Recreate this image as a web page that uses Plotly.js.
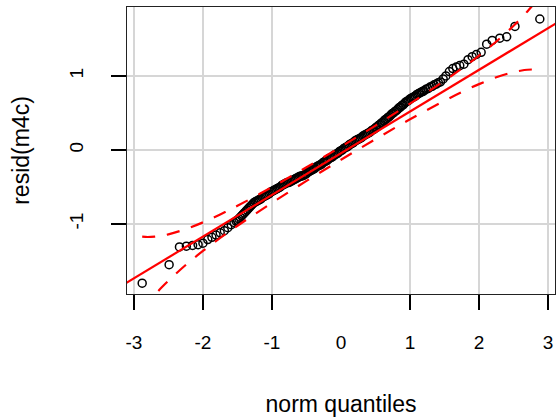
<!DOCTYPE html>
<html>
<head>
<meta charset="utf-8">
<script src="https://cdn.plot.ly/plotly-3.0.1.min.js"></script>
<style>html,body{margin:0;padding:0;background:#fff;}#chart{width:557px;height:419px;}</style>
</head>
<body>
<div id="chart"></div>
<script>
// sorted residuals vs normal quantiles
var qqX = [-2.88,-2.49,-2.34,-2.24,-2.15,-2.07,-2.00,-1.93,-1.87,-1.81,-1.75,-1.69,-1.64,-1.59,-1.55,-1.52,
  -1.50,-1.48,-1.46,-1.44,-1.42,-1.40,-1.38,-1.36,-1.34,-1.32,-1.30,-1.28,
  -1.26,-1.24,-1.22,-1.20,-1.18,-1.16,-1.14,-1.12,-1.10,-1.08,-1.06,-1.04,
  -1.02,-1.00,-0.98,-0.96,-0.94,-0.92,-0.90,-0.88,-0.86,-0.84,-0.82,-0.80,
  -0.78,-0.76,-0.74,-0.72,-0.70,-0.68,-0.66,-0.64,-0.62,-0.60,-0.58,-0.56,
  -0.54,-0.52,-0.50,-0.48,-0.46,-0.44,-0.42,-0.40,-0.38,-0.36,-0.34,-0.32,-0.30,
  -0.28,-0.26,-0.24,-0.22,-0.20,-0.18,-0.16,-0.14,-0.12,-0.10,-0.08,-0.06,-0.04,-0.02,0.00,
  0.02,0.04,0.06,0.08,0.10,0.12,0.14,0.16,0.18,0.20,0.22,0.24,
  0.26,0.28,0.30,0.32,0.34,0.36,0.38,0.40,0.42,0.44,0.46,0.48,
  0.50,0.52,0.54,0.56,0.58,0.60,0.62,0.64,0.66,0.68,0.70,0.72,0.74,0.76,0.78,0.80,0.82,0.84,0.86,0.88,0.90,0.92,0.94,0.96,
  0.98,1.00,1.02,1.04,1.06,1.08,1.10,1.12,1.14,1.16,1.18,1.20,
  1.23,1.26,1.29,1.32,1.35,1.38,1.41,1.44,
  1.48,1.52,1.57,1.62,1.67,1.72,1.78,1.84,1.90,1.96,2.03,2.11,2.19,2.30,2.40,2.52,2.88];
var qqY = [-1.80,-1.55,-1.31,-1.30,-1.29,-1.28,-1.26,-1.21,-1.18,-1.15,-1.12,-1.09,-1.05,-1.01,-0.98,-0.96,
  -0.95,-0.93,-0.91,-0.89,-0.87,-0.85,-0.83,-0.81,-0.79,-0.77,-0.75,-0.73,
  -0.71,-0.70,-0.69,-0.68,-0.67,-0.66,-0.64,-0.63,-0.62,-0.61,-0.60,-0.59,
  -0.57,-0.56,-0.55,-0.54,-0.53,-0.52,-0.51,-0.50,-0.48,-0.47,-0.46,-0.45,
  -0.44,-0.44,-0.43,-0.42,-0.41,-0.40,-0.39,-0.38,-0.37,-0.36,-0.35,-0.35,
  -0.34,-0.33,-0.32,-0.30,-0.29,-0.28,-0.27,-0.26,-0.25,-0.23,-0.22,-0.21,-0.20,
  -0.19,-0.17,-0.16,-0.15,-0.14,-0.12,-0.11,-0.10,-0.09,-0.07,-0.06,-0.05,-0.04,-0.02,-0.01,
  0.00,0.02,0.03,0.04,0.05,0.07,0.08,0.09,0.10,0.12,0.13,0.14,
  0.15,0.16,0.17,0.19,0.20,0.21,0.22,0.23,0.24,0.26,0.27,0.28,
  0.30,0.31,0.33,0.34,0.36,0.37,0.39,0.41,0.42,0.44,0.45,0.47,0.49,0.50,0.52,0.53,0.55,0.57,0.58,0.60,0.61,0.63,0.65,0.66,
  0.67,0.69,0.70,0.71,0.72,0.73,0.75,0.76,0.77,0.78,0.79,0.80,
  0.82,0.83,0.85,0.86,0.88,0.89,0.91,0.92,
  0.96,1.00,1.06,1.10,1.12,1.14,1.16,1.22,1.26,1.29,1.32,1.43,1.48,1.51,1.53,1.67,1.77];

// reference line
var fitX = [-3.2, 3.2];
var fitY = [-1.847, 1.759];

// confidence envelope
var envX     = [-2.88,-2.8,-2.7,-2.6,-2.5,-2.25,-2,-1.75,-1.5,-1,-0.5,0,0.5,1,1.5,1.75,2,2.25,2.5,2.6,2.7,2.8,2.88];
var envUpper = [-1.172,-1.176,-1.171,-1.159,-1.140,-1.070,-0.978,-0.871,-0.754,-0.502,-0.234,0.044,0.330,0.626,0.936,1.101,1.276,1.466,1.678,1.771,1.872,1.980,2.074];
var envLower = [-2.162,-2.068,-1.959,-1.859,-1.766,-1.554,-1.364,-1.189,-1.024,-0.714,-0.418,-0.132,0.146,0.415,0.666,0.783,0.890,0.982,1.052,1.071,1.084,1.088,1.084];

// axes ticks
var xLabelVals = [-3,-2,-1,0,1,2,3];
var xLabelText = ['-3','-2','-1','0','1','2','3'];
var xTickVals  = [-3,-2,-1,1,2,3];
var yTickVals  = [-1,0,1];
var yTickText  = ['-1','0','1'];

var FONT = 'Liberation Sans, Arial, sans-serif';
var dashLine = {color:'#ff0000', width:2.2, dash:'13px,12px', shape:'spline'};

var traces = [
  {x: qqX, y: qqY, type:'scatter', mode:'markers', xaxis:'x', yaxis:'y',
   marker:{symbol:'circle-open', size:8, color:'#000000', line:{width:1.5, color:'#000000'}}, hoverinfo:'skip'},
  {x: envX, y: envUpper, type:'scatter', mode:'lines', xaxis:'x', yaxis:'y', line: dashLine, hoverinfo:'skip'},
  {x: envX, y: envLower, type:'scatter', mode:'lines', xaxis:'x', yaxis:'y', line: dashLine, hoverinfo:'skip'},
  {x: fitX, y: fitY, type:'scatter', mode:'lines', xaxis:'x2', yaxis:'y', line:{color:'#ff0000', width:2.2}, hoverinfo:'skip'}
];

var xr = [-3.10, 3.10];
var layout = {
  width: 557, height: 419,
  margin: {l:127, r:2, t:7, b:125},
  paper_bgcolor:'#ffffff', plot_bgcolor:'#ffffff',
  showlegend:false,
  font:{family:FONT, color:'#000000', size:19},
  xaxis: {
    range: xr, tickmode:'array', tickvals: xLabelVals, ticktext: xLabelText,
    ticks:'outside', ticklen:15, tickcolor:'rgba(0,0,0,0)', ticklabelstandoff: 16,
    showgrid:false, zeroline:false, showline:true, mirror:true, linecolor:'#222222', linewidth:1.2,
    tickfont:{size:19, family:FONT, color:'#000000'},
    title:{text:'norm quantiles', font:{size:23, family:FONT, color:'#000000'}, standoff:43}
  },
  xaxis2: {
    range: xr, overlaying:'x', anchor:'y', side:'bottom', tickmode:'array', tickvals: xTickVals,
    showticklabels:false, ticks:'outside', ticklen:15, tickwidth:1.5, tickcolor:'#000000',
    showgrid:true, gridcolor:'#d6d6d6', gridwidth:1.5, zeroline:false, showline:false
  },
  yaxis: {
    range: [-1.946, 1.932], tickmode:'array', tickvals: yTickVals, ticktext: yTickText,
    ticks:'outside', ticklen:15, tickwidth:1.5, tickcolor:'#000000', tickangle:-90, ticklabelstandoff: 20,
    showgrid:true, gridcolor:'#d6d6d6', gridwidth:1.5, zeroline:false,
    showline:true, mirror:true, linecolor:'#222222', linewidth:1.2,
    tickfont:{size:19, family:FONT, color:'#000000'},
    title:{text:'resid(m4c)', font:{size:23, family:FONT, color:'#000000'}, standoff:30}
  }
};

Plotly.newPlot('chart', traces, layout, {displayModeBar:false, staticPlot:true});
</script>
</body>
</html>
